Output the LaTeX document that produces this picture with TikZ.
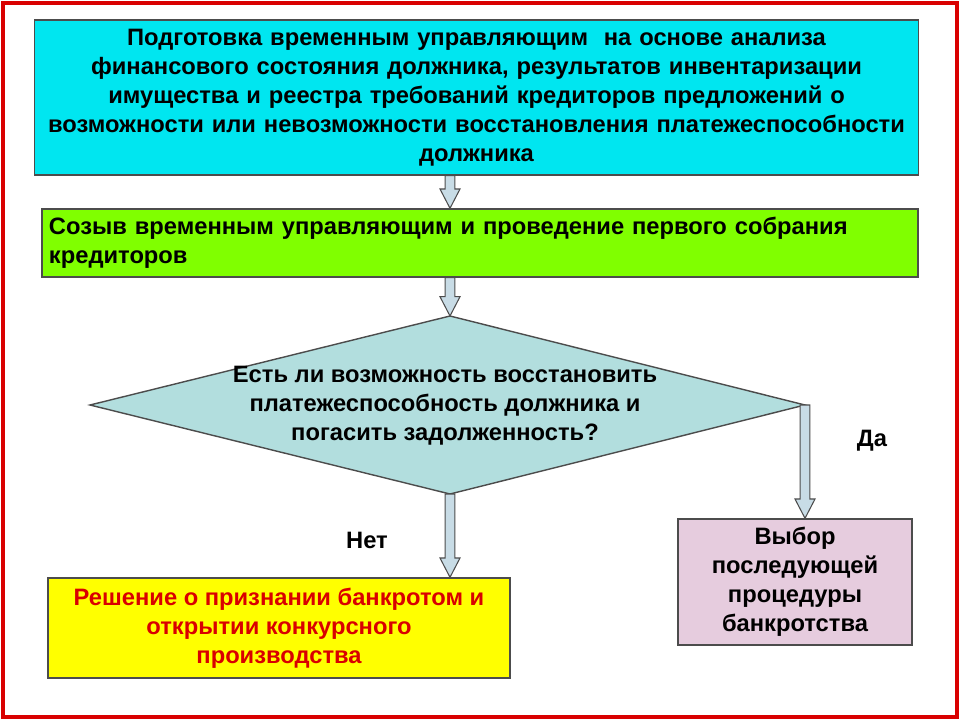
\documentclass[tikz,border=0pt]{standalone}
\usepackage{fontspec}
\setmainfont{Liberation Sans}
\usetikzlibrary{calc}
\definecolor{cyanbox}{RGB}{0, 230, 240}
\definecolor{greenbox}{RGB}{128, 255, 0}
\definecolor{tealbox}{RGB}{178, 222, 222}
\definecolor{yellowbox}{RGB}{255, 255, 0}
\definecolor{pinkbox}{RGB}{230, 204, 222}
\definecolor{arrowfill}{RGB}{200, 220, 230}
\tikzset{
  stepbox/.style = {draw = black!70, line width = 0.8pt, inner sep = 4pt,
    font = \bfseries\fontsize{13.5pt}{16.5pt}\selectfont},
  blockarr/.style = {draw = black!70, fill = arrowfill, line width = 0.6pt},
}
% hollow block arrow from #1 straight down to #2
\newcommand{\hollowarrow}[2]{%
  \path let \p1 = (#1), \p2 = (#2) in [blockarr]
    (\x1-2.8pt,\y1) -- (\x1-2.8pt,\y2+11pt) -- (\x1-5.7pt,\y2+11pt) -- (\x1,\y2)
    -- (\x1+5.7pt,\y2+11pt) -- (\x1+2.8pt,\y2+11pt) -- (\x1+2.8pt,\y1) -- cycle;}

\begin{document}
\begin{tikzpicture}[x = 0.02cm, y = -0.02cm]
\useasboundingbox (0,0) rectangle (960,720);
\draw[red!85!black, line width = 1.8pt] (3,3) rectangle (957,717);
% boxes
\node[stepbox, fill = cyanbox, minimum width = 883*0.02cm, minimum height = 155*0.02cm,
  text width = 870*0.02cm, align = center] (prep) at (476.5,97.5)
  {Подготовка временным управляющим \ на основе анализа\\
   финансового состояния должника, результатов инвентаризации\\
   имущества и реестра требований кредиторов предложений о\\
   возможности или невозможности восстановления платежеспособности\\
   должника};
\node[stepbox, fill = greenbox, minimum width = 876*0.02cm, minimum height = 68*0.02cm,
  text width = 862*0.02cm, align = left] (meet) at (480,243)
  {Созыв временным управляющим и проведение первого собрания\\ кредиторов};
% decision
\coordinate (dtop) at (450,316);
\coordinate (dbot) at (450,494);
\coordinate (dleft) at (90,405);
\coordinate (dright) at (805,405);
\draw[fill = tealbox, draw = black!70, line width = 0.8pt] (dtop) -- (dright) -- (dbot) -- (dleft) -- cycle;
\node[font = \bfseries\fontsize{13.5pt}{16.5pt}\selectfont, align = center] (quest) at (445,406)
  {Есть ли возможность восстановить\\ платежеспособность должника и\\ погасить задолженность?};
\node[stepbox, fill = yellowbox, text = red!85!black, minimum width = 462*0.02cm,
  minimum height = 100*0.02cm, align = center] (bankr) at (279,628)
  {Решение о признании банкротом и\\ открытии конкурсного\\ производства};
\node[stepbox, fill = pinkbox, minimum width = 234*0.02cm, minimum height = 126*0.02cm,
  align = center] (choice) at (795,582)
  {Выбор\\ последующей\\ процедуры\\ банкротства};
\node[font = \bfseries\fontsize{13.5pt}{14pt}\selectfont] (yes) at (872,441) {Да};
\node[font = \bfseries\fontsize{13.5pt}{14pt}\selectfont] (no) at (367,540) {Нет};
% arrows
\hollowarrow{prep.south -| dtop}{meet.north -| dtop}
\hollowarrow{meet.south -| dtop}{dtop}
\hollowarrow{dbot}{bankr.north -| dbot}
\hollowarrow{dright}{choice.north -| dright}
\end{tikzpicture}
\end{document}
